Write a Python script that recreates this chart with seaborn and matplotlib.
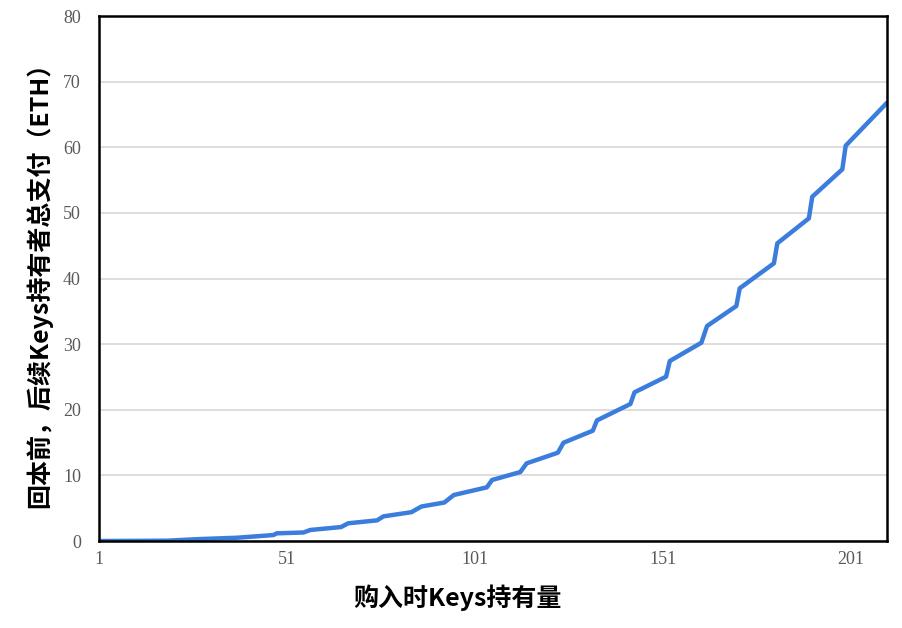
import pandas as pd
import seaborn as sns
import matplotlib
matplotlib.use("Agg")
import matplotlib.pyplot as plt

# 曲线拐点
keys_held = [1, 19.0, 27.9, 37.7, 47.4, 48.3, 55.4, 57.2, 65.4, 67.3, 75.0, 76.7,
             84.1, 86.8, 92.9, 95.4, 104.2, 105.6, 113.1, 114.8, 123.1, 124.6,
             132.4, 133.5, 142.4, 143.5, 151.9, 152.9, 161.3, 162.8, 170.6, 171.5,
             180.6, 181.5, 189.9, 190.8, 198.8, 199.7, 210.7]
eth_paid = [0, 0.05, 0.30, 0.50, 0.91, 1.17, 1.30, 1.68, 2.13, 2.70, 3.15, 3.76,
            4.39, 5.26, 5.87, 7.01, 8.18, 9.30, 10.51, 11.84, 13.46, 14.98,
            16.81, 18.38, 20.88, 22.66, 25.04, 27.43, 30.22, 32.76, 35.81, 38.51,
            42.32, 45.36, 49.17, 52.46, 56.64, 60.24, 66.79]
x_ticks = [1, 51, 101, 151, 201]
y_ticks = [0, 10, 20, 30, 40, 50, 60, 70, 80]

df = pd.DataFrame({'持有量': keys_held, '支付': eth_paid})

sns.set_theme(style='white')
plt.rcParams['font.family'] = ['Noto Sans CJK SC', 'DejaVu Sans']

fig = plt.figure(figsize=(9.02, 6.28), dpi=100)
ax = fig.add_axes([0.1098, 0.1385, 0.8736, 0.836])

sns.lineplot(data=df, x='持有量', y='支付', ax=ax, color='#3a7ddc', linewidth=3.2)

ax.set_xlim(1, 210.7)
ax.set_ylim(0, 80)
ax.set_xticks(x_ticks)
ax.set_yticks(y_ticks)
ax.set_xticklabels([str(t) for t in x_ticks], family='Liberation Serif', fontsize=13, color='#595959')
ax.set_yticklabels([str(t) for t in y_ticks], family='Liberation Serif', fontsize=13, color='#595959')
ax.tick_params(axis='both', length=0)
ax.tick_params(axis='y', pad=13)
ax.tick_params(axis='x', pad=7)

ax.yaxis.grid(True, color='#d4d4d4', linewidth=1.1)
ax.xaxis.grid(False)
ax.set_axisbelow(True)
for s in ax.spines.values():
    s.set_visible(True)
    s.set_color('black')
    s.set_linewidth(1.8)

ax.set_xlabel('购入时Keys持有量', fontsize=18, fontweight='bold', color='black')
ax.xaxis.set_label_coords(0.4543, -0.1086)
ax.xaxis.label.set_va('center')
ax.set_ylabel('回本前，后续Keys持有者总支付（ETH）', fontsize=18, fontweight='bold', color='black', labelpad=8)

fig.savefig('out.png', dpi=100)
